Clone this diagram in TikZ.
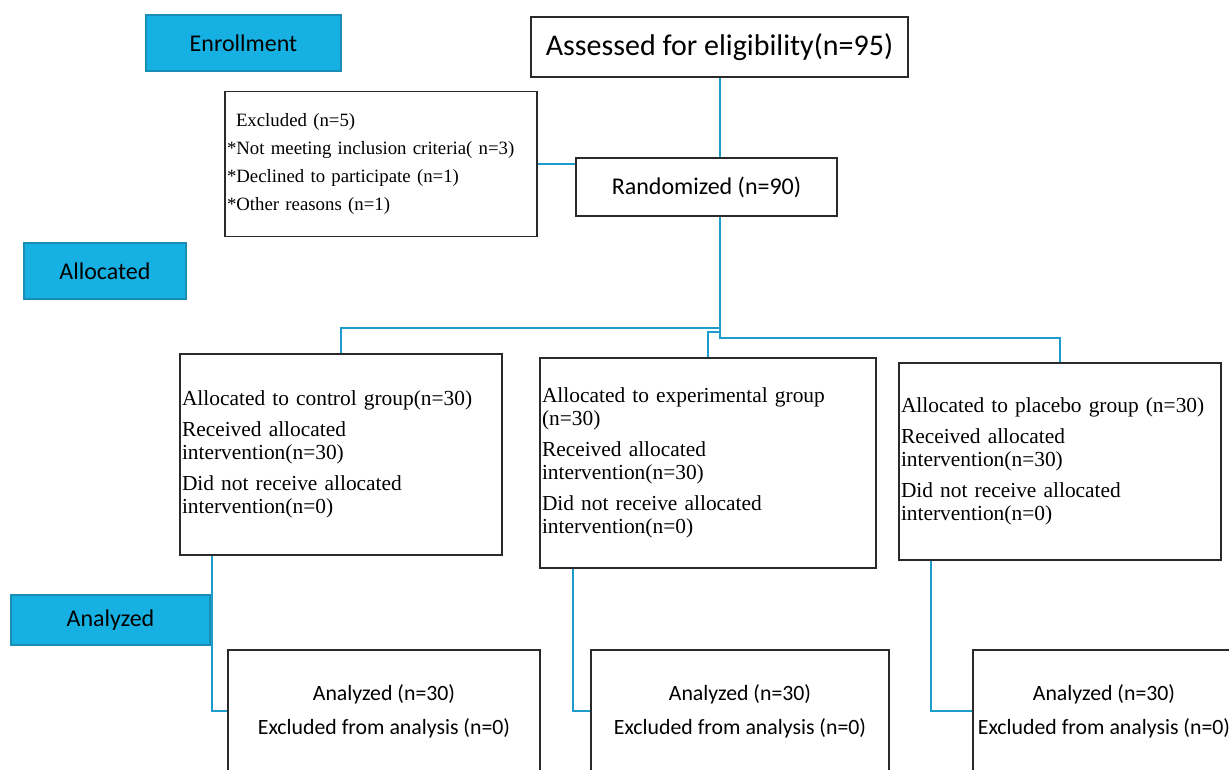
\documentclass[tikz,border=0pt]{standalone}
\usepackage{fontspec}
\setmainfont{Liberation Serif}
\setsansfont{Carlito}
\usetikzlibrary{positioning}
\definecolor{stagecyan}{HTML}{16B1E2}
\definecolor{stageedge}{HTML}{1A8DB5}
\definecolor{linkblue}{HTML}{1C9CCB}
\definecolor{boxgray}{HTML}{2A2A2A}
\tikzstyle{stagebox} = [rectangle,
	draw=stageedge,
	line width=1.6pt,
	fill=stagecyan,
	text centered,
	font=\sffamily\fontsize{24}{28}\selectfont
	]
\tikzstyle{countbox} = [rectangle,
	draw=boxgray,
	line width=1.6pt,
	fill=white,
	text centered,
	font=\sffamily\fontsize{24}{28}\selectfont
	]
\tikzstyle{groupbox} = [rectangle,
	draw=boxgray,
	line width=1.6pt,
	fill=white,
	align=left,
	inner xsep=2pt,
	font=\rmfamily\fontsize{21.4}{23}\selectfont
	]
\tikzstyle{resultbox} = [rectangle,
	draw=boxgray,
	line width=1.6pt,
	fill=white,
	align=center,
	font=\sffamily\fontsize{21.8}{22}\selectfont
	]
\tikzstyle{link} = [draw=linkblue, line width=1.8pt]

\begin{document}
\begin{tikzpicture}[x=1pt, y=-1pt]
\useasboundingbox (0,0) rectangle (1229,769);
\clip (0,0) rectangle (1229,769);

% stage labels
\node (enrol) [stagebox, minimum width=195pt, minimum height=56pt] at (243.5,43) {Enrollment};
\node (alloc) [stagebox, minimum width=162pt, minimum height=56pt] at (105,271) {Allocated};
\node (analy) [stagebox, minimum width=199pt, minimum height=50pt] at (110.5,620) {Analyzed};

% enrollment
\node (assess) [countbox, minimum width=377pt, minimum height=60pt,
	font=\sffamily\fontsize{30}{34}\selectfont] at (719.5,47) {Assessed for eligibility(n=95)};
\node (random) [countbox, minimum width=261pt, minimum height=58pt] at (706.5,187) {Randomized (n=90)};
\node (excl) [groupbox, text width=308pt, minimum height=145pt,
	font=\rmfamily\fontsize{18.8}{28}\selectfont] at (381,164)
	{\hspace{9pt}Excluded (n=5)\\
	{}*Not meeting inclusion criteria( n=3)\\
	{}*Declined to participate (n=1)\\
	{}*Other reasons (n=1)};

% allocation
\node (ctrl) [groupbox, text width=318pt, minimum height=201pt] at (341,454.5)
	{Allocated to control group(n=30)\\[8pt]
	Received allocated\\ intervention(n=30)\\[8pt]
	Did not receive allocated\\ intervention(n=0)};
\node (exp) [groupbox, text width=332pt, minimum height=210pt] at (708,463)
	{Allocated to experimental group\\ (n=30)\\[8pt]
	Received allocated\\ intervention(n=30)\\[8pt]
	Did not receive allocated\\ intervention(n=0)};
\node (plac) [groupbox, text width=318pt, minimum height=197pt] at (1060,461.5)
	{Allocated to placebo group (n=30)\\[8pt]
	Received allocated\\ intervention(n=30)\\[8pt]
	Did not receive allocated\\ intervention(n=0)};

% analysis
\node (anCtrl) [resultbox, minimum width=312pt, minimum height=122pt] at (384,711)
	{Analyzed (n=30)\\[12pt] Excluded from analysis (n=0)};
\node (anExp) [resultbox, minimum width=298pt, minimum height=122pt] at (740,711)
	{Analyzed (n=30)\\[12pt] Excluded from analysis (n=0)};
\node (anPlac) [resultbox, minimum width=262pt, minimum height=122pt] at (1104,711)
	{Analyzed (n=30)\\[12pt] Excluded from analysis (n=0)};

\coordinate (forkA) at (720,328);
\coordinate (forkB) at (720,332);
\coordinate (forkC) at (720,338);

\draw [link] (assess.south -| forkA) -- (random.north -| forkA);
\draw [link] (excl.east) -- (excl.east -| random.west);
\draw [link] (random.south -| forkC) -- (forkC) -| (plac.north);
\draw [link] (forkA) -| (ctrl.north);
\draw [link] (forkB) -| (exp.north);

\draw [link] ([xshift=33pt]ctrl.south west) |- (anCtrl.west);
\draw [link] ([xshift=34pt]exp.south west) |- (anExp.west);
\draw [link] ([xshift=33pt]plac.south west) |- (anPlac.west);

\end{tikzpicture}
\end{document}
